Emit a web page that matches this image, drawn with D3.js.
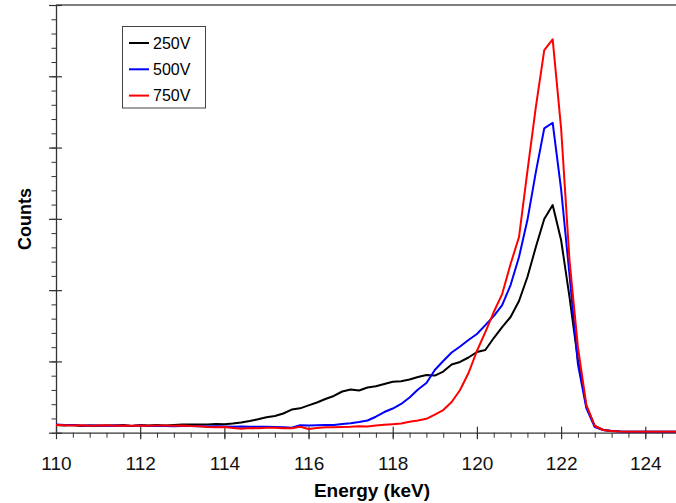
<!DOCTYPE html>
<html>
<head>
<meta charset="utf-8">
<script src="https://cdn.jsdelivr.net/npm/d3@7"></script>
<style>
  body { margin: 0; background: #fff; }
  svg { display: block; font-family: Arial, "Liberation Sans", sans-serif; }
</style>
</head>
<body>
<div id="container"></div>
<script>
// size of the page
let w = 676;
let h = 503;

// energy bins (keV)
let energy = [
  110.0, 110.2, 110.4, 110.6, 110.8, 111.0, 111.2, 111.4, 111.6, 111.8,
  112.0, 112.2, 112.4, 112.6, 112.8, 113.0, 113.2, 113.4, 113.6, 113.8,
  114.0, 114.2, 114.4, 114.6, 114.8, 115.0, 115.2, 115.4, 115.6, 115.8,
  116.0, 116.2, 116.4, 116.6, 116.8, 117.0, 117.2, 117.4, 117.6, 117.8,
  118.0, 118.2, 118.4, 118.6, 118.8, 119.0, 119.2, 119.4, 119.6, 119.8,
  120.0, 120.2, 120.4, 120.6, 120.8, 121.0, 121.2, 121.4, 121.6, 121.8,
  122.0, 122.2, 122.4, 122.6, 122.8, 123.0, 123.2, 123.4, 123.6, 123.8,
  124.0, 124.2, 124.4, 124.6, 124.8
];

// counts per bin (arbitrary units, one major y tick = 1000)
let counts250 = [
  108, 101, 108, 94, 101, 97, 101, 101, 108, 94,
  108, 101, 108, 101, 108, 115, 115, 115, 115, 122,
  118, 129, 143, 164, 188, 216, 234, 269, 325, 342,
  384, 424, 473, 515, 578, 606, 592, 634, 652, 683,
  714, 722, 746, 781, 809, 802, 858, 957, 992, 1055,
  1132, 1160, 1328, 1482, 1623, 1847, 2184, 2604, 2997, 3193,
  2703, 1903, 1020, 374, 94, 38, 24, 18, 15, 14,
  13, 13, 12, 12, 12
];
let counts500 = [
  115, 108, 108, 101, 101, 101, 97, 101, 97, 94,
  101, 94, 97, 94, 91, 94, 94, 90, 87, 90,
  87, 83, 87, 84, 84, 83, 80, 76, 70, 104,
  101, 105, 108, 108, 122, 133, 150, 171, 224, 290,
  339, 403, 494, 606, 697, 879, 1006, 1125, 1209, 1300,
  1384, 1510, 1636, 1790, 2071, 2464, 2983, 3656, 4269, 4348,
  3418, 2212, 960, 346, 80, 38, 24, 18, 15, 14,
  13, 13, 12, 12, 12
];
let counts750 = [
  108, 104, 101, 104, 97, 101, 104, 97, 101, 97,
  101, 97, 101, 101, 97, 101, 94, 90, 80, 76,
  80, 66, 56, 66, 63, 69, 70, 62, 62, 83,
  52, 66, 76, 77, 80, 83, 91, 87, 101, 111,
  119, 129, 154, 171, 195, 255, 318, 431, 599, 837,
  1146, 1412, 1693, 1945, 2366, 2745, 3670, 4568, 5367, 5517,
  4273, 2419, 1200, 389, 94, 38, 24, 18, 15, 14,
  13, 13, 12, 12, 12
];

let seriesNames = ["250V", "500V", "750V"];
let seriesColors = ["#000000", "#0000ff", "#ff0000"];
let xTicks = [110, 112, 114, 116, 118, 120, 122, 124];
let yTicks = [0, 1000, 2000, 3000, 4000, 5000, 6000];

let series = [counts250, counts500, counts750].map(function(c, i){
  return { name: seriesNames[i], color: seriesColors[i],
           values: energy.map(function(e, j){ return { e: e, c: c[j] }; }) };
});

let viz = d3.select("#container")
  .append("svg")
    .attr("width", w)
    .attr("height", h)
    .style("background-color", "white");

// plot frame
let plotLeft = 56, plotTop = 5, plotRight = 676, plotBottom = 432.7;

let xScale = d3.scaleLinear().domain([110, 124.73]).range([plotLeft, plotRight]);
let yScale = d3.scaleLinear().domain([0, 6000]).range([plotBottom, plotTop]);

let axisColor = "#333";

// top border
viz.append("line")
  .attr("x1", plotLeft).attr("x2", plotRight)
  .attr("y1", plotTop).attr("y2", plotTop)
  .attr("stroke", "#555").attr("stroke-width", 1.5);

// x minor ticks
let xMinor = d3.range(110, 124.75, 0.4);
viz.append("g")
  .attr("transform", "translate(0," + plotBottom + ")")
  .call(d3.axisBottom(xScale).tickValues(xMinor).tickSize(5).tickFormat(""))
  .call(function(g){ g.select(".domain").remove(); })
  .selectAll("line").attr("stroke", axisColor);

// x major ticks + labels
let xAxis = viz.append("g")
  .attr("transform", "translate(0," + plotBottom + ")")
  .call(d3.axisBottom(xScale).tickValues(xTicks).tickSize(6.5).tickSizeOuter(0).tickFormat(d3.format("d")));
xAxis.select(".domain").attr("stroke", axisColor).attr("stroke-width", 1.3);
xAxis.selectAll(".tick line").attr("y1", -6).attr("stroke", axisColor).attr("stroke-width", 1.2);
xAxis.selectAll(".tick text")
  .attr("y", 24)
  .attr("fill", "#111")
  .style("font-size", "19px");

// y minor ticks
let yMinor = d3.range(0, 6001, 200);
viz.append("g")
  .attr("transform", "translate(" + plotLeft + ",0)")
  .call(d3.axisLeft(yScale).tickValues(yMinor).tickSize(4.5).tickFormat(""))
  .call(function(g){ g.select(".domain").remove(); })
  .selectAll("line").attr("stroke", axisColor);

// y major ticks (no labels)
let yAxis = viz.append("g")
  .attr("transform", "translate(" + plotLeft + ",0)")
  .call(d3.axisLeft(yScale).tickValues(yTicks).tickSize(7).tickSizeOuter(0).tickFormat(""));
yAxis.select(".domain").attr("stroke", axisColor).attr("stroke-width", 1.3);
yAxis.selectAll(".tick line").attr("x1", 6).attr("stroke", axisColor).attr("stroke-width", 1.2);

// axis titles
viz.append("text")
  .attr("x", 372).attr("y", 497)
  .attr("text-anchor", "middle")
  .style("font-size", "19px").style("font-weight", "bold")
  .text("Energy (keV)");

viz.append("text")
  .attr("transform", "translate(31,219) rotate(-90)")
  .attr("text-anchor", "middle")
  .style("font-size", "18px").style("font-weight", "bold")
  .text("Counts");

// curves
viz.append("clipPath").attr("id", "plotclip")
  .append("rect")
    .attr("x", plotLeft).attr("y", 0)
    .attr("width", plotRight - plotLeft).attr("height", plotBottom);

let line = d3.line()
  .x(function(d){ return xScale(d.e); })
  .y(function(d){ return yScale(d.c); });

viz.append("g").attr("clip-path", "url(#plotclip)")
  .selectAll("path").data(series).enter()
  .append("path")
    .attr("d", function(d){ return line(d.values); })
    .attr("fill", "none")
    .attr("stroke", function(d){ return d.color; })
    .attr("stroke-width", 2)
    .attr("stroke-linejoin", "round");

// legend
let legend = viz.append("g").attr("class", "legend");
legend.append("rect")
  .attr("x", 122.5).attr("y", 26.5)
  .attr("width", 83).attr("height", 81.5)
  .attr("fill", "white").attr("stroke", "#444").attr("stroke-width", 1);

let items = legend.selectAll(".item").data(series).enter()
  .append("g")
    .attr("class", "item")
    .attr("transform", function(d, i){ return "translate(0," + (43 + i * 26.3) + ")"; });
items.append("line")
  .attr("x1", 129).attr("x2", 149)
  .attr("stroke", function(d){ return d.color; })
  .attr("stroke-width", 2);
items.append("text")
  .attr("x", 153).attr("y", 5.5)
  .style("font-size", "16px")
  .text(function(d){ return d.name; });
</script>
</body>
</html>
